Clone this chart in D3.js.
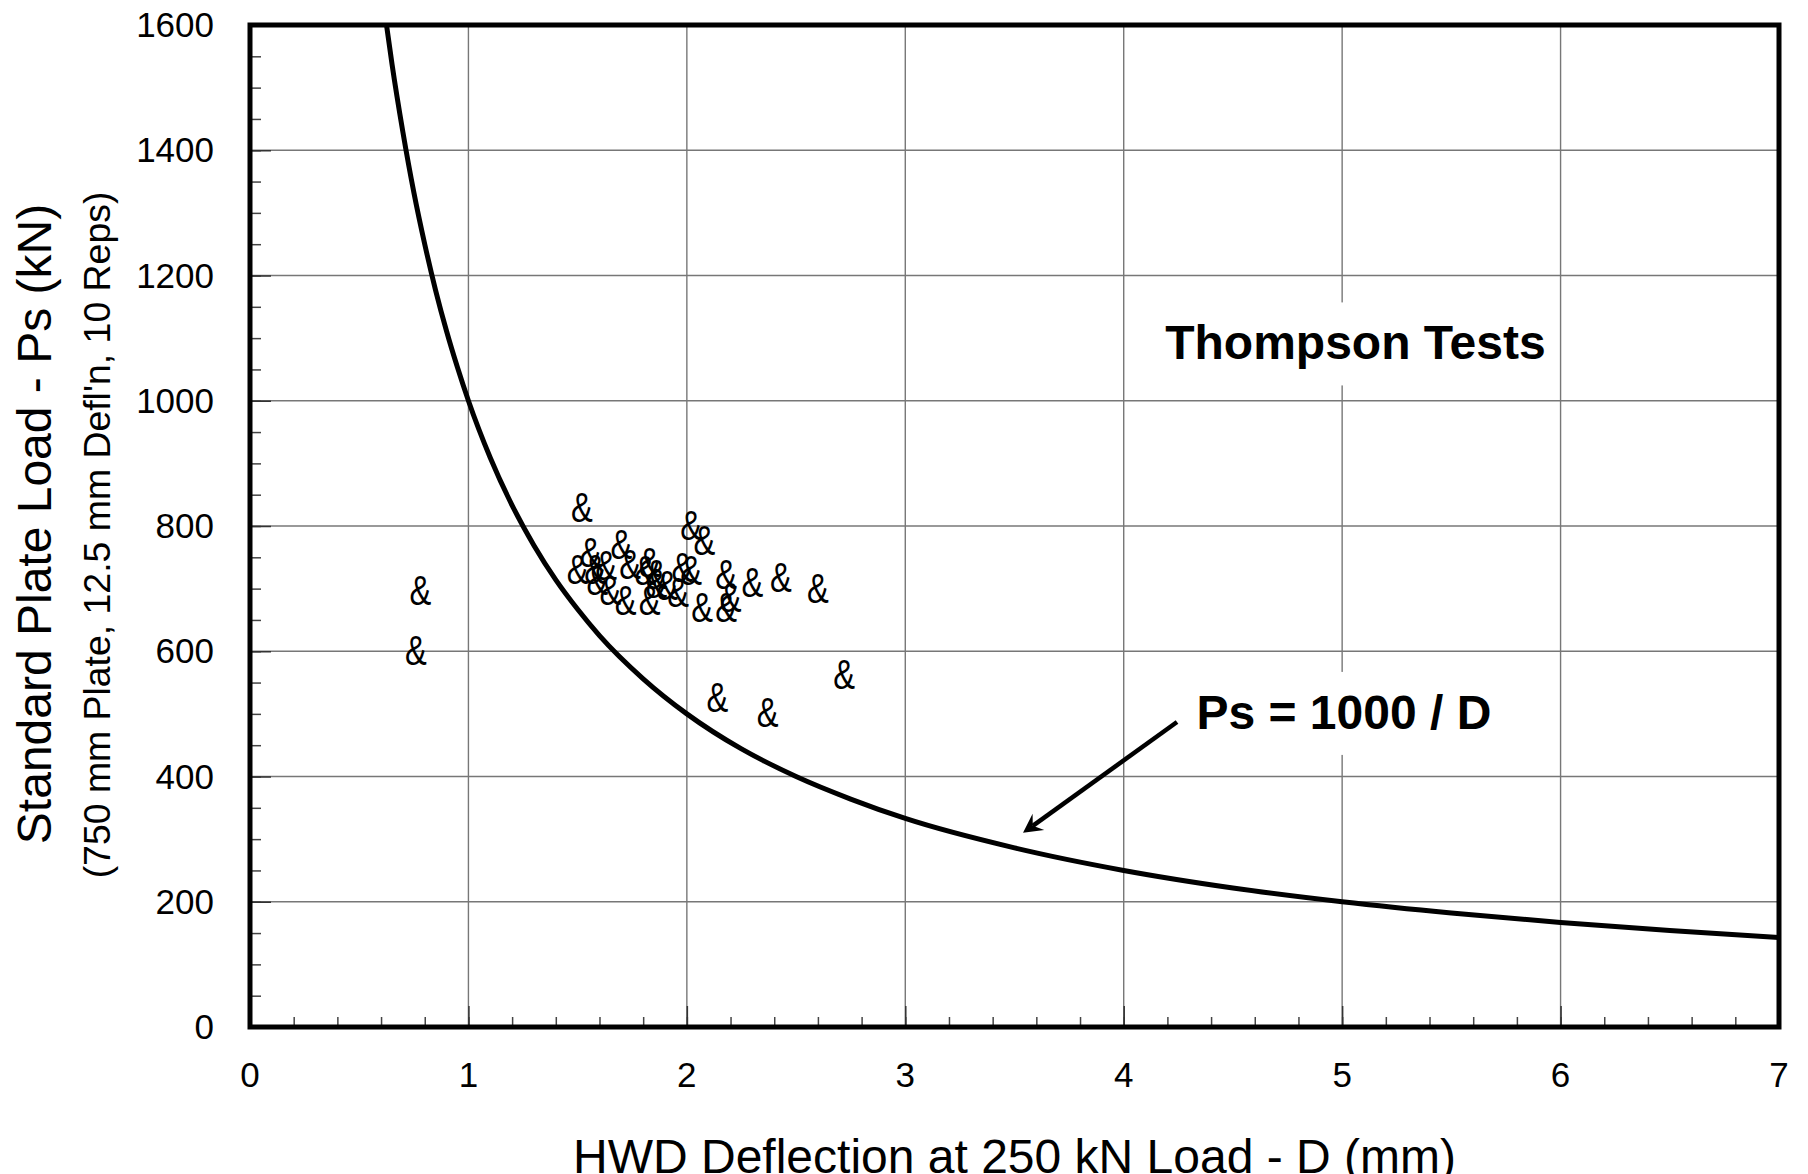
<!DOCTYPE html>
<html>
<head>
<meta charset="utf-8">
<script src="https://d3js.org/d3.v7.min.js"></script>
<style>
  body { margin: 0; background: #fff; }
  svg { display: block; font-family: "Liberation Sans", Arial, sans-serif; }
</style>
</head>
<body>
<div id="my_dataviz"></div>
<script>
// Thompson tests: HWD deflection (mm) and plate load (kN)
var testD  = [0.78, 0.76, 1.52, 1.50, 1.56, 1.58, 1.63, 1.59, 1.65, 1.70, 1.72, 1.74,
              1.81, 1.83, 1.83, 1.86, 1.86, 1.91, 1.96, 1.98, 2.02, 2.02, 2.08, 2.07,
              2.18, 2.20, 2.18, 2.30, 2.43, 2.60, 2.72, 2.14, 2.37];
var testPs = [698, 602, 831, 732, 759, 732, 738, 714, 698, 772, 682, 740,
              730, 743, 682, 724, 709, 706, 695, 735, 730, 802, 778, 671,
              724, 687, 671, 711, 719, 701, 565, 527, 503];

// Ps = 1000 / D line
var curveD  = [0.625, 0.65, 0.7, 0.75, 0.8, 0.85, 0.9, 0.95, 1.0, 1.1, 1.2, 1.3, 1.4, 1.5,
               1.6, 1.8, 2.0, 2.25, 2.5, 2.75, 3.0, 3.5, 4.0, 4.5, 5.0, 5.5, 6.0, 6.5, 7.0];
var curvePs = [1600, 1538, 1429, 1333, 1250, 1176, 1111, 1053, 1000, 909, 833, 769, 714, 667,
               625, 556, 500, 444, 400, 364, 333, 286, 250, 222, 200, 182, 167, 154, 143];

var xTicks = [0, 1, 2, 3, 4, 5, 6, 7];
var yTicks = [0, 200, 400, 600, 800, 1000, 1200, 1400, 1600];

// annotation arrow, in data units: [D, Ps] from label to curve
var arrowFrom = [4.244, 487];
var arrowTo   = [3.539, 310];

var margin = {top: 25, right: 29, bottom: 147, left: 250},
    width = 1808 - margin.left - margin.right,
    height = 1174 - margin.top - margin.bottom;

var svg = d3.select("#my_dataviz")
  .append("svg")
    .attr("width", 1808)
    .attr("height", 1174)
  .append("g")
    .attr("transform", "translate(" + margin.left + "," + margin.top + ")");

var x = d3.scaleLinear().domain([0, 7]).range([0, width]);
var y = d3.scaleLinear().domain([0, 1600]).range([height, 0]);

// grid
svg.append("g")
  .selectAll("line")
  .data(xTicks.slice(1, -1))
  .enter()
  .append("line")
    .attr("x1", d => x(d)).attr("x2", d => x(d))
    .attr("y1", 0).attr("y2", height)
    .style("stroke", "#777").style("stroke-width", 1.4);

svg.append("g")
  .selectAll("line")
  .data(yTicks.slice(1, -1))
  .enter()
  .append("line")
    .attr("x1", 0).attr("x2", width)
    .attr("y1", d => y(d)).attr("y2", d => y(d))
    .style("stroke", "#777").style("stroke-width", 1.4);

// inward ticks (minor + major)
svg.append("g")
  .call(d3.axisBottom(x).tickValues(d3.range(0, 7.01, 0.2)).tickSize(-10).tickFormat(""))
  .attr("transform", "translate(0," + height + ")")
  .call(g => g.select(".domain").remove())
  .call(g => g.selectAll("line").style("stroke", "#444").style("stroke-width", 1.5));
svg.append("g")
  .call(d3.axisBottom(x).tickValues(xTicks).tickSize(-21).tickFormat(""))
  .attr("transform", "translate(0," + height + ")")
  .call(g => g.select(".domain").remove())
  .call(g => g.selectAll("line").style("stroke", "#333").style("stroke-width", 1.5));
svg.append("g")
  .call(d3.axisLeft(y).tickValues(d3.range(0, 1601, 50)).tickSize(-11).tickFormat(""))
  .call(g => g.select(".domain").remove())
  .call(g => g.selectAll("line").style("stroke", "#444").style("stroke-width", 1.5));
svg.append("g")
  .call(d3.axisLeft(y).tickValues(yTicks).tickSize(-21).tickFormat(""))
  .call(g => g.select(".domain").remove())
  .call(g => g.selectAll("line").style("stroke", "#333").style("stroke-width", 1.5));

// tick labels
svg.append("g")
  .selectAll("text")
  .data(xTicks)
  .enter()
  .append("text")
    .attr("x", d => x(d))
    .attr("y", height + 60)
    .attr("text-anchor", "middle")
    .style("font-size", "35px")
    .text(d => d);

svg.append("g")
  .selectAll("text")
  .data(yTicks)
  .enter()
  .append("text")
    .attr("x", -36)
    .attr("y", d => y(d) + 12)
    .attr("text-anchor", "end")
    .style("font-size", "35px")
    .text(d => d);

// axis titles
svg.append("text")
  .attr("text-anchor", "middle")
  .attr("x", width / 2)
  .attr("y", height + 146)
  .style("font-size", "48px")
  .text("HWD Deflection at 250 kN Load - D (mm)");

svg.append("text")
  .attr("text-anchor", "middle")
  .attr("transform", "translate(" + (51 - margin.left) + "," + (499) + ") rotate(-90)")
  .style("font-size", "48px")
  .text("Standard Plate Load - Ps (kN)");

svg.append("text")
  .attr("text-anchor", "middle")
  .attr("transform", "translate(" + (110 - margin.left) + "," + (510) + ") rotate(-90)")
  .style("font-size", "37.4px")
  .text("(750 mm Plate, 12.5 mm Defl'n, 10 Reps)");

// annotation labels with white backing
function boxedLabel(txt, d, ps) {
  var g = svg.append("g");
  var t = g.append("text")
    .attr("x", x(d))
    .attr("y", y(ps))
    .style("font-size", "48px")
    .style("font-weight", "bold")
    .text(txt);
  var bb = t.node().getBBox();
  g.insert("rect", "text")
    .attr("x", bb.x - 10).attr("y", bb.y - 14)
    .attr("width", bb.width + 20).attr("height", bb.height + 30)
    .style("fill", "#fff");
}
boxedLabel("Thompson Tests", 4.19, 1066);
boxedLabel("Ps = 1000 / D", 4.333, 476);

// Ps = 1000/D curve
var line = d3.line()
  .x((d, i) => x(curveD[i]))
  .y(d => y(d))
  .curve(d3.curveMonotoneX);

svg.append("path")
  .datum(curvePs)
  .attr("d", line)
  .style("fill", "none")
  .style("stroke", "#000")
  .style("stroke-width", 5);

// arrow
var ax1 = x(arrowFrom[0]), ay1 = y(arrowFrom[1]),
    ax2 = x(arrowTo[0]), ay2 = y(arrowTo[1]);
var ang = Math.atan2(ay2 - ay1, ax2 - ax1);
svg.append("line")
  .attr("x1", ax1).attr("y1", ay1)
  .attr("x2", ax2 - 12 * Math.cos(ang)).attr("y2", ay2 - 12 * Math.sin(ang))
  .style("stroke", "#000")
  .style("stroke-width", 4.5);
svg.append("path")
  .attr("d", "M0,0 L-19,-10 L-12,0 L-19,10 Z")
  .attr("transform", "translate(" + ax2 + "," + ay2 + ") rotate(" + (ang * 180 / Math.PI) + ")")
  .style("fill", "#000");

// test points drawn as '&' glyphs
svg.append("g")
  .selectAll("text")
  .data(testD)
  .enter()
  .append("text")
    .attr("transform", (d, i) => "translate(" + x(d) + "," + y(testPs[i]) + ") scale(0.76,1)")
    .attr("text-anchor", "middle")
    .attr("dy", "0.36em")
    .style("font-size", "43px")
    .text("&");

// frame
svg.append("rect")
  .attr("width", width)
  .attr("height", height)
  .style("fill", "none")
  .style("stroke", "#000")
  .style("stroke-width", 5);
</script>
</body>
</html>
